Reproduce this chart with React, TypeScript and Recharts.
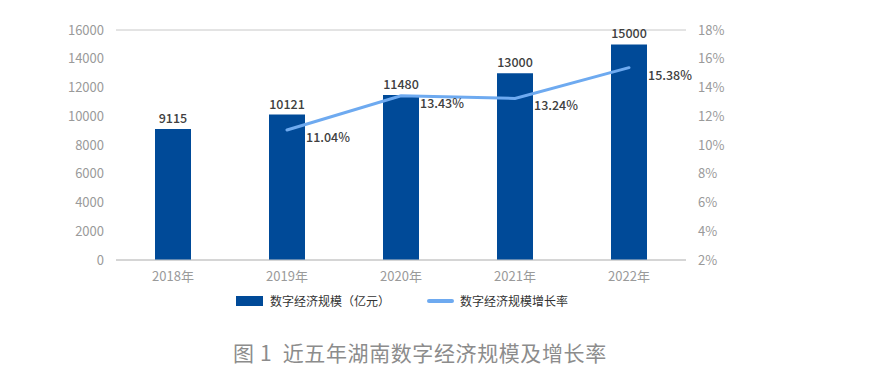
import React from 'react';
import { ComposedChart, Bar, Line, XAxis, YAxis, CartesianGrid, LabelList } from 'recharts';

const years = ['2018年', '2019年', '2020年', '2021年', '2022年'];
const scale = [9115, 10121, 11480, 13000, 15000];
const growth = [null, 11.04, 13.43, 13.24, 15.38];
const leftTicks = [0, 2000, 4000, 6000, 8000, 10000, 12000, 14000, 16000];
const rightTicks = [2, 4, 6, 8, 10, 12, 14, 16, 18];

const data = years.map((year, i) => ({ year, scale: scale[i], growth: growth[i] }));

const FONT = '"Noto Sans CJK SC", "Noto Sans", sans-serif';
const BAR_COLOR = '#004a98';
const LINE_COLOR = '#6eaaf0';

const tickStyle = { fill: '#9a9a9a', fontSize: 13, fontFamily: FONT };

const RateLabel = (props: any) => {
  const { x, y, value } = props;
  if (value == null) return null;
  return (
    <text x={x + 19} y={y + 12} fill="#404040" fontSize={12.5} fontFamily={FONT} fontWeight={500}>
      {value.toFixed(2)}%
    </text>
  );
};

export default function App() {
  return (
    <div style={{ position: 'absolute', left: 0, top: 0, width: 871, height: 385, background: '#fff' }}>
      <ComposedChart
        width={871}
        height={290}
        data={data}
        margin={{ top: 30, right: 145, left: 56, bottom: 0 }}
      >
        <CartesianGrid vertical={false} stroke="#c8c8c8" />
        <XAxis
          dataKey="year"
          tick={tickStyle}
          tickLine={false}
          axisLine={{ stroke: '#c8c8c8' }}
          height={30}
          tickMargin={6}
        />
        <YAxis
          yAxisId="left"
          domain={[0, 16000]}
          ticks={leftTicks}
          tick={tickStyle}
          tickLine={false}
          axisLine={false}
          width={60}
          tickMargin={6}
        />
        <YAxis
          yAxisId="right"
          orientation="right"
          domain={[2, 18]}
          ticks={rightTicks}
          tickFormatter={(v: number) => `${v}%`}
          tick={tickStyle}
          tickLine={false}
          axisLine={false}
          width={40}
          tickMargin={6}
        />
        <Bar yAxisId="left" dataKey="scale" fill={BAR_COLOR} barSize={36} isAnimationActive={false}>
          <LabelList dataKey="scale" position="top" offset={6} fill="#404040" fontSize={12.5} fontFamily={FONT} fontWeight={500} />
        </Bar>
        <Line
          yAxisId="right"
          dataKey="growth"
          stroke={LINE_COLOR}
          strokeWidth={3}
          strokeLinecap="round"
          dot={false}
          type="linear"
          isAnimationActive={false}
        >
          <LabelList dataKey="growth" content={<RateLabel />} />
        </Line>
      </ComposedChart>
      <div
        style={{
          position: 'absolute',
          top: 292,
          left: 236,
          display: 'flex',
          alignItems: 'center',
          fontFamily: FONT,
          fontSize: 12,
          color: '#333',
        }}
      >
        <span style={{ display: 'inline-block', width: 27, height: 10, background: BAR_COLOR, marginRight: 7 }} />
        <span>数字经济规模（亿元）</span>
        <span style={{ display: 'inline-block', width: 27, height: 4, borderRadius: 2, background: LINE_COLOR, marginLeft: 37, marginRight: 6 }} />
        <span>数字经济规模增长率</span>
      </div>
      <div
        style={{
          position: 'absolute',
          top: 337,
          left: 233,
          fontFamily: FONT,
          fontSize: 21,
          letterSpacing: 0.6,
          color: '#8c8c8c',
          whiteSpace: 'pre',
        }}
      >
        图 1  近五年湖南数字经济规模及增长率
      </div>
    </div>
  );
}
